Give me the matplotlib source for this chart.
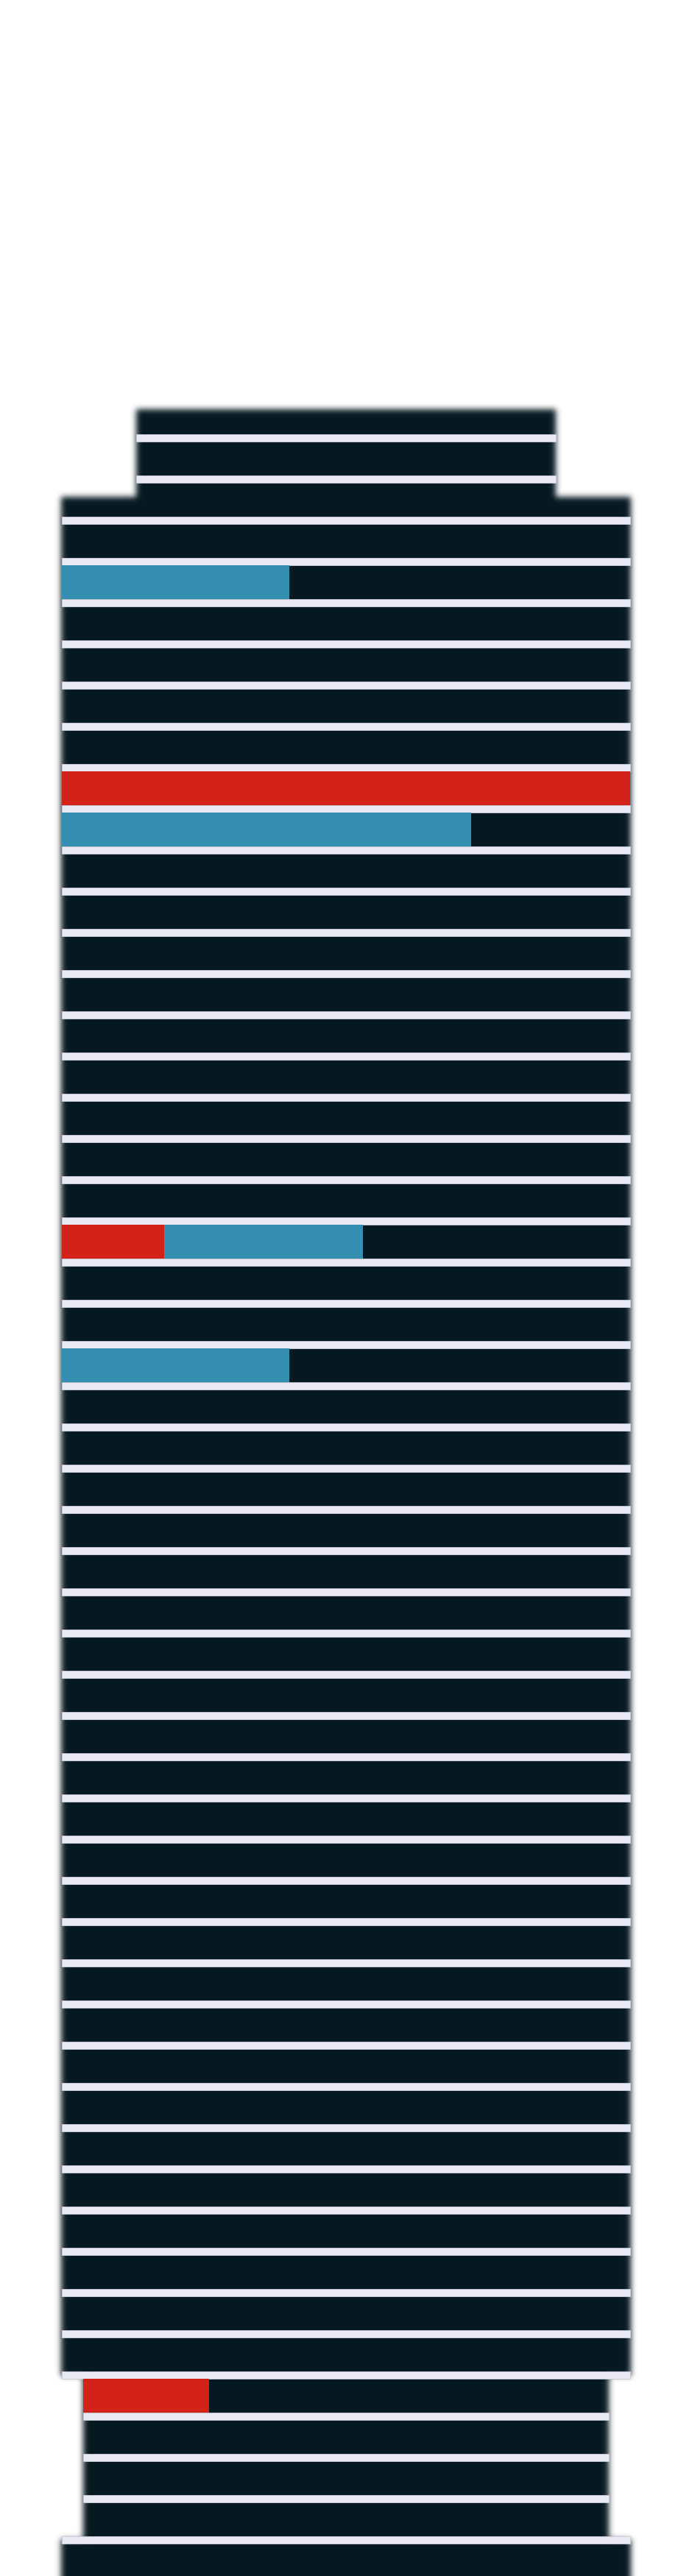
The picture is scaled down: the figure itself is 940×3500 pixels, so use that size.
import numpy as np
import matplotlib.pyplot as plt

# floors from the top (0) down to the ground (52)
floor_tier = ['crown'] * 3 + ['body'] * 45 + ['base'] * 4 + ['body']
tier_width = {'crown': 570, 'body': 772, 'base': 714}

red_floors = [9, 20, 48]
red_values = [1.0, 0.18, 0.24]
blue_floors = [4, 10, 20, 23]
blue_values = [0.40, 0.72, 0.35, 0.40]

# silhouette of the tower: (top, bottom, width) in floor units
outline = [(0.2, 3.0, 570), (2.34, 47.93, 774), (47.93, 51.9, 714), (51.9, 60, 774)]

DARK = '#061820'
LIGHT = '#e8e9f3'
RED = '#d32219'
BLUE = '#338eb2'
cx = 470
floor_h = 46 / 56
y_top, y_bot = -544 / 56, (3500 - 544) / 56

fig = plt.figure(figsize=(9.4, 35), dpi=100)
ax = fig.add_axes([0, 0, 1, 1])
ax.axis('off')

# blurred dark silhouette
xx = np.linspace(0, 940, 940)
yy = np.linspace(y_top, y_bot, 3500)
mask = np.zeros((len(yy), len(xx)))
for top, bot, w in outline:
    rows = (yy >= top) & (yy < bot)
    cols = (xx >= cx - w / 2) & (xx < cx + w / 2)
    mask[np.ix_(rows, cols)] = 1.0


def blur(a, s):
    r = int(3 * s)
    k = np.exp(-0.5 * (np.arange(-r, r + 1) / s) ** 2)
    k /= k.sum()
    p = np.pad(a, ((0, 0), (r, r)), mode='edge')
    a = sum(kw * p[:, j:j + a.shape[1]] for j, kw in enumerate(k))
    p = np.pad(a, ((r, r), (0, 0)), mode='edge')
    return sum(kw * p[j:j + a.shape[0], :] for j, kw in enumerate(k))


alpha = blur(mask, 4.0)
rgba = np.zeros(mask.shape + (4,))
rgba[..., :3] = np.array([6, 24, 32]) / 255
rgba[..., 3] = alpha
ax.imshow(rgba, extent=(0, 940, y_bot, y_top), aspect='auto',
          interpolation='bilinear', zorder=1)

# floor separators
widths = [tier_width[t] for t in floor_tier]
for k in range(len(floor_tier) - 1):
    w = max(widths[k], widths[k + 1])
    ax.barh(k + floor_h + (1 - floor_h) / 2, w, left=cx - w / 2,
            height=1 - floor_h, color=LIGHT, edgecolor='#c9cad4',
            linewidth=0.6, zorder=2)

# highlighted floors
red_at = dict(zip(red_floors, red_values))
for f, v in zip(red_floors, red_values):
    w = widths[f]
    ax.barh(f + floor_h / 2, v * w, left=cx - w / 2, height=floor_h,
            color=RED, linewidth=0, zorder=3)
for f, v in zip(blue_floors, blue_values):
    w = widths[f]
    start = cx - w / 2 + red_at.get(f, 0) * w
    ax.barh(f + floor_h / 2, v * w, left=start, height=floor_h,
            color=BLUE, linewidth=0, zorder=3)

ax.set_xlim(0, 940)
ax.set_ylim(y_bot, y_top)
fig.savefig('out.png', dpi=100, facecolor='white')
